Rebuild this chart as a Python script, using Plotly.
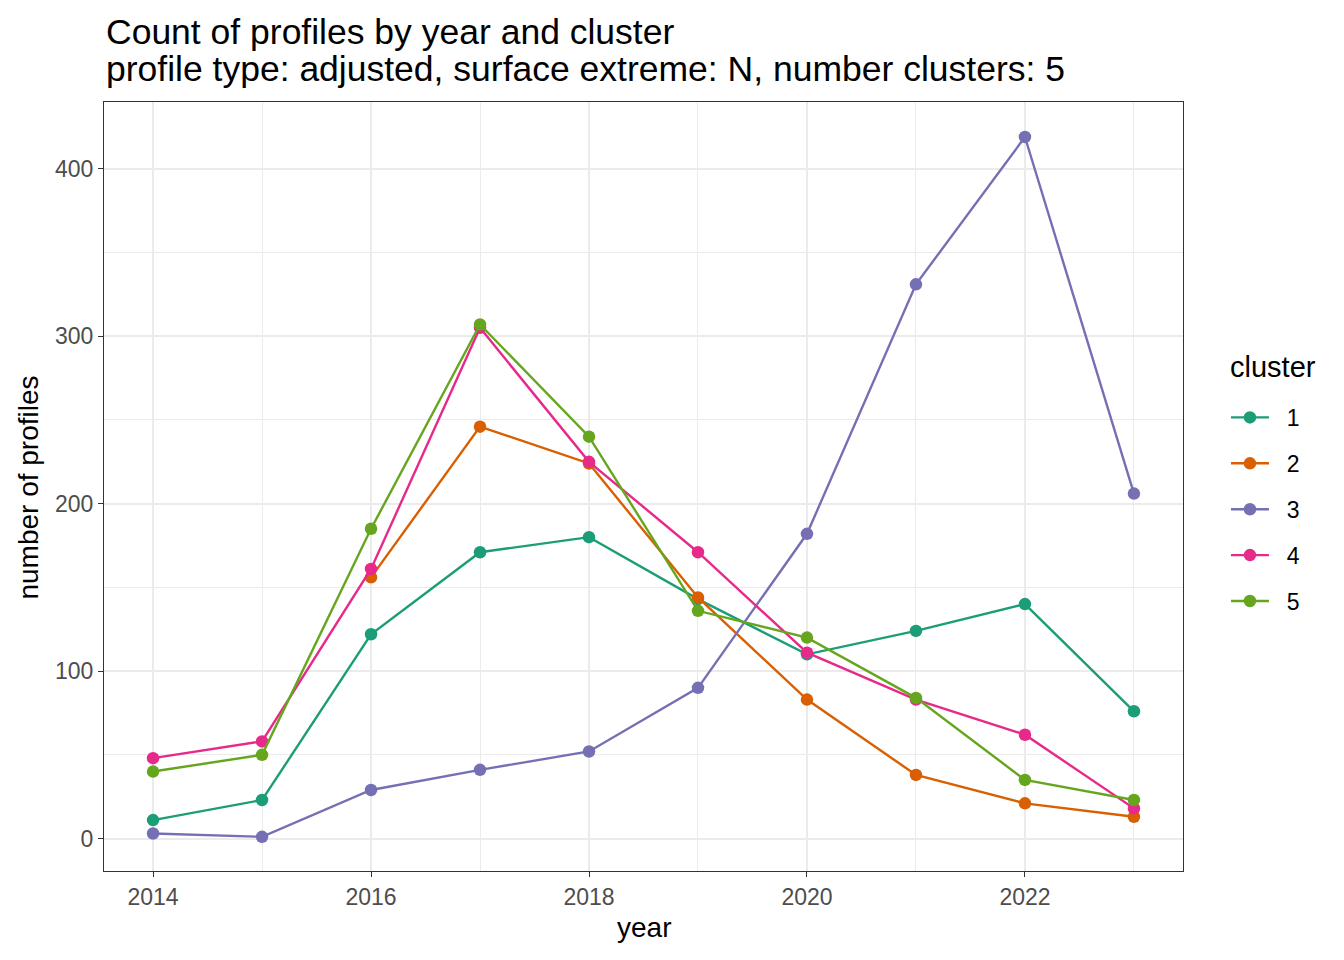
import plotly.graph_objects as go

years = [2014, 2015, 2016, 2017, 2018, 2019, 2020, 2021, 2022, 2023]
clusters = ["1", "2", "3", "4", "5"]
colors = ["#1B9E77", "#D95F02", "#7570B3", "#E7298A", "#66A61E"]

c1 = [11, 23, 122, 171, 180, 143, 110, 124, 140, 76]
c2_years = [2016, 2017, 2018, 2019, 2020, 2021, 2022, 2023]
c2 = [156, 246, 224, 144, 83, 38, 21, 13]
c3 = [3, 1, 29, 41, 52, 90, 182, 331, 419, 206]
c4 = [48, 58, 161, 305, 225, 171, 111, 83, 62, 18]
c5 = [40, 50, 185, 307, 240, 136, 120, 84, 35, 23]

series = [(years, c1), (c2_years, c2), (years, c3), (years, c4), (years, c5)]

x_ticks = [2014, 2016, 2018, 2020, 2022]
x_minor = [2015, 2017, 2019, 2021, 2023]
y_ticks = [0, 100, 200, 300, 400]
y_minor = [50, 150, 250, 350]

title_line1 = "Count of profiles by year and cluster"
title_line2 = "profile type: adjusted, surface extreme: N, number clusters: 5"

fig = go.Figure()
for name, col, (xs, ys) in zip(clusters, colors, series):
    fig.add_trace(go.Scatter(
        x=xs, y=ys, name="\u00a0\u00a0" + name, mode="lines+markers",
        line=dict(color=col, width=2.4),
        marker=dict(color=col, size=12.5),
        legendgroup=name,
    ))

font_family = "Liberation Sans, Arial, sans-serif"
# page has an 8px body margin; compensate so the panel sits at 103..1183 x 101..871
fig.update_layout(
    width=1344, height=960,
    paper_bgcolor="white", plot_bgcolor="white",
    margin=dict(l=96, r=169, t=94, b=97),
    font=dict(family=font_family, color="black"),
    legend=dict(
        font=dict(size=23),
        x=(1226 - 103) / 1080, xanchor="left",
        y=(871 - 509) / 770, yanchor="middle",
        tracegroupgap=13,
        itemwidth=38,
    ),
    showlegend=True,
    annotations=[
        dict(text=title_line1, xref="paper", yref="paper", x=0, y=(871 - 31) / 770,
             xanchor="left", yanchor="middle", showarrow=False,
             font=dict(size=35.5, color="black")),
        dict(text=title_line2, xref="paper", yref="paper", x=0, y=(871 - 68) / 770,
             xanchor="left", yanchor="middle", showarrow=False,
             font=dict(size=35.5, color="black")),
        dict(text="year", xref="paper", yref="paper", x=0.5, y=(871 - 928) / 770,
             xanchor="center", yanchor="middle", showarrow=False,
             font=dict(size=28, color="black")),
        dict(text="number of profiles", xref="paper", yref="paper", x=(27 - 103) / 1080, y=(871 - 487) / 770,
             xanchor="center", yanchor="middle", showarrow=False, textangle=-90,
             font=dict(size=28, color="black")),
        dict(text="cluster", xref="paper", yref="paper", x=(1228 - 103) / 1080, y=(871 - 366) / 770,
             xanchor="left", yanchor="middle", showarrow=False,
             font=dict(size=29, color="black")),
    ],
)
fig.update_xaxes(
    range=[2013.55, 2023.45],
    tickmode="array", tickvals=x_ticks,
    ticks="outside", ticklen=5, tickcolor="#333333", tickwidth=1.3,
    tickfont=dict(size=23, color="#4D4D4D"),
    showgrid=True, gridcolor="#EBEBEB", gridwidth=2,
    minor=dict(tickvals=x_minor, showgrid=True, gridcolor="#EBEBEB", gridwidth=1, ticks=""),
    showline=True, linecolor="#333333", linewidth=1.3, mirror=True,
    zeroline=False,
)
fig.update_yaxes(
    range=[-19.4, 439.9],
    tickmode="array", tickvals=y_ticks,
    ticks="outside", ticklen=5, tickcolor="#333333", tickwidth=1.3,
    tickfont=dict(size=23, color="#4D4D4D"),
    showgrid=True, gridcolor="#EBEBEB", gridwidth=2,
    minor=dict(tickvals=y_minor, showgrid=True, gridcolor="#EBEBEB", gridwidth=1, ticks=""),
    showline=True, linecolor="#333333", linewidth=1.3, mirror=True,
    zeroline=False,
)

fig.write_html("out.html")
